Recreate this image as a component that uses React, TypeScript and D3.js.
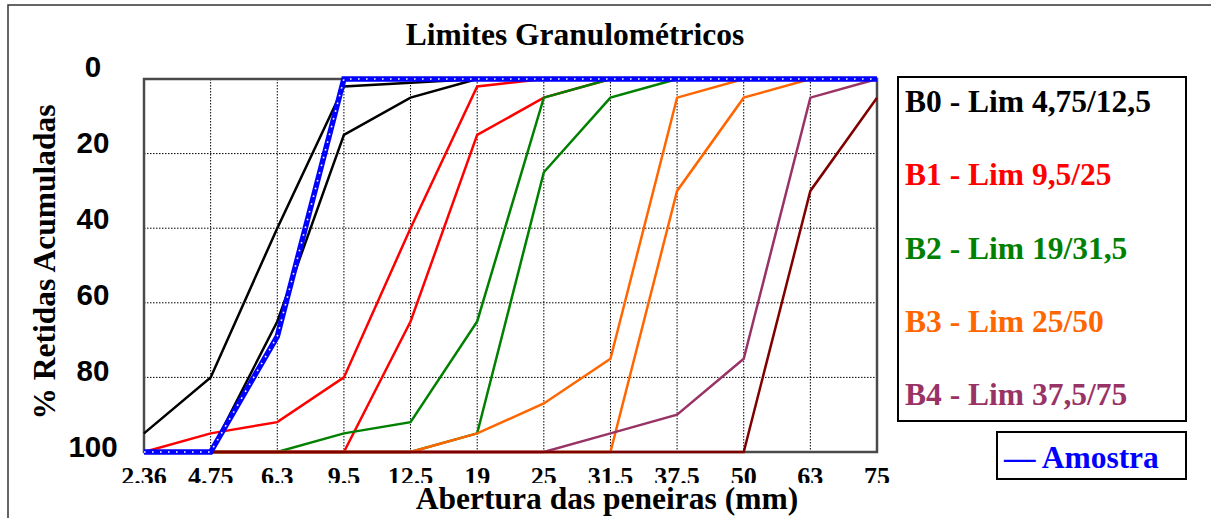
import React from "react";
import * as d3 from "d3";

const sieves = ["2.36", "4.75", "6.3", "9.5", "12.5", "19", "25", "31.5", "37.5", "50", "63", "75"];
const yTicks = [0, 20, 40, 60, 80, 100];
const gridY = [20, 40, 60, 80];

const b0Lower = [95, 80, 40, 2, 1, 0, 0, 0, 0, 0, 0, 0];
const b0Upper = [100, 100, 65, 15, 5, 0, 0, 0, 0, 0, 0, 0];
const b1Lower = [100, 95, 92, 80, 40, 2, 0, 0, 0, 0, 0, 0];
const b1Upper = [100, 100, 100, 100, 65, 15, 5, 0, 0, 0, 0, 0];
const b2Lower = [100, 100, 100, 95, 92, 65, 5, 0, 0, 0, 0, 0];
const b2Upper = [100, 100, 100, 100, 100, 95, 25, 5, 0, 0, 0, 0];
const b3Lower = [100, 100, 100, 100, 100, 95, 87, 75, 5, 0, 0, 0];
const b3Upper = [100, 100, 100, 100, 100, 100, 100, 100, 30, 5, 0, 0];
const b4Lower = [100, 100, 100, 100, 100, 100, 100, 95, 90, 75, 5, 0];
const b4Upper = [100, 100, 100, 100, 100, 100, 100, 100, 100, 100, 30, 5];
const amostra = [100, 100, 69, 0, 0, 0, 0, 0, 0, 0, 0, 0];

const limitSeries = [
  { name: "B0 - Lim 4,75/12,5", color: "#000000", curves: [b0Lower, b0Upper] },
  { name: "B1 - Lim 9,5/25", color: "#FF0000", curves: [b1Lower, b1Upper] },
  { name: "B2 - Lim 19/31,5", color: "#008000", curves: [b2Lower, b2Upper] },
  { name: "B3 - Lim 25/50", color: "#FF6600", curves: [b3Lower, b3Upper] },
  { name: "B4 - Lim 37,5/75", color: "#993366", curves: [b4Lower], extra: { data: b4Upper, color: "#800000" } },
];

const SERIF = "'Liberation Serif', 'Times New Roman', serif";
const SANS = "'Liberation Sans', Arial, sans-serif";

export default function App() {
  const left = 144, right = 877, top = 79, bottom = 452;
  const x = d3.scalePoint<string>().domain(sieves).range([left, right]);
  const y = d3.scaleLinear().domain([0, 100]).range([top, bottom]);
  const yLab = d3.scaleLinear().domain([0, 100]).range([67, 447]);
  const line = d3
    .line<number>()
    .x((_, i) => x(sieves[i]) as number)
    .y((d) => y(d));

  const legendBaselines = d3.scaleLinear().domain([0, 4]).range([112, 405]);

  const curves: { d: number[]; color: string }[] = [];
  limitSeries.forEach((s) => {
    s.curves.forEach((c) => curves.push({ d: c, color: s.color }));
    if (s.extra) curves.push({ d: s.extra.data, color: s.extra.color });
  });

  return (
    <svg
      width={1216}
      height={518}
      style={{ position: "absolute", left: 0, top: 0, background: "#fff" }}
    >
      <defs>
        <clipPath id="tickclip">
          <rect x={0} y={455} width={1216} height={28} />
        </clipPath>
      </defs>
      <rect x={0} y={0} width={1216} height={518} fill="#fff" />
      <path d="M8,518 L8,5 L1211,5" fill="none" stroke="#333" strokeWidth={1.5} />

      <text x={575} y={45} textAnchor="middle" fontFamily={SERIF} fontWeight="bold" fontSize={31.5}>
        Limites Granulométricos
      </text>

      {/* grid */}
      {sieves.slice(1, -1).map((s) => (
        <line key={s} x1={x(s)} x2={x(s)} y1={top} y2={bottom} stroke="#000" strokeWidth={1} strokeDasharray="1.5 1.5" />
      ))}
      {gridY.map((v) => (
        <line key={v} x1={left} x2={right} y1={y(v)} y2={y(v)} stroke="#000" strokeWidth={1} strokeDasharray="1.5 1.5" />
      ))}
      <rect x={left} y={top} width={right - left} height={bottom - top} fill="none" stroke="#4a4a4a" strokeWidth={2.5} />

      {/* series */}
      {curves.map((c, i) => (
        <path key={i} d={line(c.d) || ""} fill="none" stroke={c.color} strokeWidth={2.5} strokeLinejoin="miter" />
      ))}
      <path d={line(amostra) || ""} fill="none" stroke="#0000FF" strokeWidth={5.5} />
      <path d={line(amostra) || ""} fill="none" stroke="#fff" strokeWidth={1.6} strokeDasharray="1.6 6.4" />

      {/* y ticks */}
      {yTicks.map((t) => (
        <text key={t} x={93} y={yLab(t) + 10} textAnchor="middle" fontFamily={SANS} fontWeight="bold" fontSize={29.5}>
          {t}
        </text>
      ))}

      {/* x ticks */}
      <g clipPath="url(#tickclip)">
        {sieves.map((s) => (
          <text key={s} x={x(s)} y={485} textAnchor="middle" fontFamily={SERIF} fontWeight="bold" fontSize={26}>
            {s}
          </text>
        ))}
      </g>

      <text x={607} y={509} textAnchor="middle" fontFamily={SERIF} fontWeight="bold" fontSize={31.5}>
        Abertura das peneiras (mm)
      </text>

      <text
        transform="translate(55,262) rotate(-90)"
        textAnchor="middle"
        fontFamily={SERIF}
        fontWeight="bold"
        fontSize={31.5}
      >
        % Retidas Acumuladas
      </text>

      {/* legend */}
      <rect x={898} y={77} width={288} height={344} fill="#fff" stroke="#000" strokeWidth={2} />
      {limitSeries.map((s, i) => (
        <text key={s.name} x={905} y={legendBaselines(i)} fill={s.color} fontFamily={SERIF} fontWeight="bold" fontSize={31.5}>
          {s.name}
        </text>
      ))}
      <rect x={997} y={432} width={189} height={47} fill="#fff" stroke="#000" strokeWidth={2} />
      <text x={1004} y={468} fill="#0000FF" fontFamily={SERIF} fontWeight="bold" fontSize={31.5}>
        — Amostra
      </text>
    </svg>
  );
}
